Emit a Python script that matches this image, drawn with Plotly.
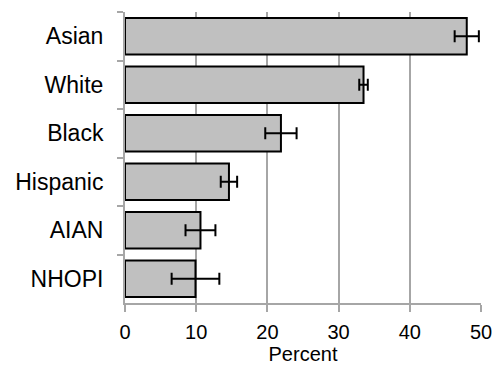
import plotly.graph_objects as go

# Share by group (percent) with error margins
groups = ["Asian", "White", "Black", "Hispanic", "AIAN", "NHOPI"]
percent = [48.0, 33.5, 21.9, 14.6, 10.6, 9.9]
margin = [1.7, 0.6, 2.2, 1.15, 2.1, 3.35]
x_ticks = [0, 10, 20, 30, 40, 50]

FONT = "Liberation Sans, Arial, sans-serif"
GRID = "#a6a6a6"

fig = go.Figure(
    go.Bar(
        x=percent,
        y=groups,
        orientation="h",
        marker=dict(color="#c0c0c0", line=dict(color="#000000", width=2)),
        error_x=dict(type="data", array=margin, color="#000000", thickness=2, width=6),
        hoverinfo="x+y",
    )
)

fig.update_layout(
    width=493,
    height=365,
    margin=dict(l=125, r=12, t=12, b=62),
    paper_bgcolor="white",
    plot_bgcolor="white",
    bargap=0.25,
    showlegend=False,
    font=dict(family=FONT, color="#000000"),
)

fig.update_xaxes(
    range=[0, 50],
    tickvals=x_ticks,
    ticktext=[str(v) for v in x_ticks],
    automargin=False,
    showgrid=True,
    gridcolor=GRID,
    gridwidth=2,
    zeroline=False,
    showline=True,
    linecolor=GRID,
    linewidth=2,
    ticks="outside",
    ticklen=7,
    tickwidth=2,
    tickcolor=GRID,
    tickfont=dict(size=20),
    ticklabelstandoff=3,
    title=dict(text="Percent", font=dict(size=20), standoff=6),
)

fig.update_yaxes(
    autorange="reversed",
    automargin=False,
    showgrid=False,
    showline=True,
    linecolor=GRID,
    linewidth=2,
    ticks="outside",
    tickson="boundaries",
    ticklen=6,
    tickwidth=2,
    tickcolor=GRID,
    tickfont=dict(size=23),
    ticklabelstandoff=15,
)

fig.write_html("out.html")
